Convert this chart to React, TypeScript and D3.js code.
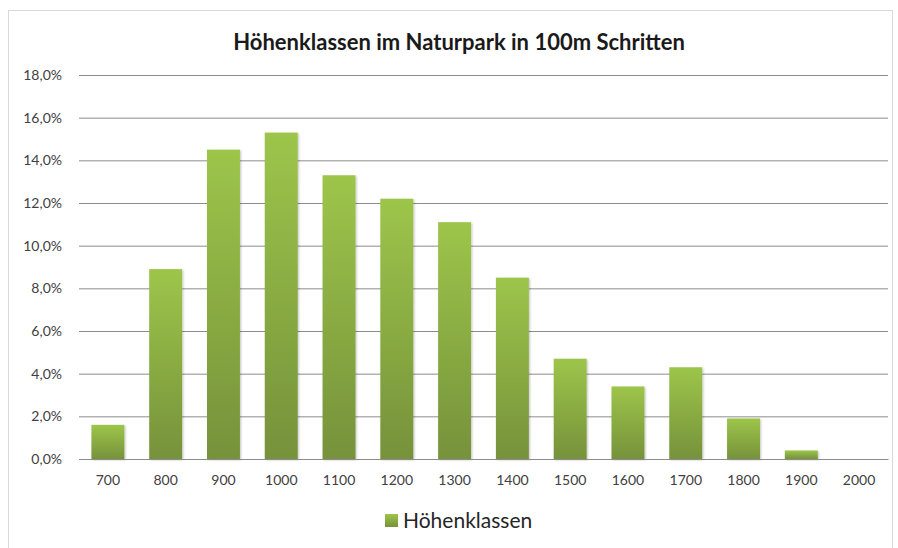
import { useRef, useEffect } from "react";
import * as d3 from "d3";

// ─── Data ─────────────────────────────────────────────────────────────────────

const categories = ["700", "800", "900", "1000", "1100", "1200", "1300", "1400", "1500", "1600", "1700", "1800", "1900", "2000"];
const shares = [1.6, 8.9, 14.5, 15.3, 13.3, 12.2, 11.1, 8.5, 4.7, 3.4, 4.3, 1.9, 0.4, 0];
const yTicks = [0, 2, 4, 6, 8, 10, 12, 14, 16, 18];
const title = "Höhenklassen im Naturpark in 100m Schritten";
const seriesName = "Höhenklassen";

const W = 898;
const H = 548;
const PLOT = { left: 79, right: 888, top: 75, bottom: 459 };
const FONT = "Lato, 'Open Sans', sans-serif";

export default function App() {
  const svgRef = useRef<SVGSVGElement>(null);

  useEffect(() => {
    if (!svgRef.current) return;
    const svg = d3.select(svgRef.current);
    svg.selectAll("*").remove();

    const x = d3.scaleBand().domain(categories).range([PLOT.left, PLOT.right]).paddingInner(0.43).paddingOuter(0.215);
    const y = d3.scaleLinear().domain([0, 18]).range([PLOT.bottom, PLOT.top]);

    // ── Defs ────────────────────────────────────────────────────────────────
    const defs = svg.append("defs");
    const grad = defs.append("linearGradient").attr("id", "barGrad").attr("x1", 0).attr("y1", 0).attr("x2", 0).attr("y2", 1);
    grad.append("stop").attr("offset", "0%").attr("stop-color", "#9dc54a");
    grad.append("stop").attr("offset", "100%").attr("stop-color", "#76923b");
    const filt = defs.append("filter").attr("id", "shadow").attr("x", "-20%").attr("y", "-20%").attr("width", "140%").attr("height", "140%");
    filt.append("feDropShadow").attr("dx", 1).attr("dy", 1).attr("stdDeviation", 1).attr("flood-color", "#000").attr("flood-opacity", 0.25);

    // ── Frame ───────────────────────────────────────────────────────────────
    svg.append("rect").attr("x", 8.5).attr("y", 10.5).attr("width", W - 14).attr("height", H - 8)
      .attr("fill", "#fff").attr("stroke", "#d9d9d9");

    // ── Title ───────────────────────────────────────────────────────────────
    svg.append("text").attr("x", 459).attr("y", 50).attr("text-anchor", "middle")
      .attr("font-family", FONT).attr("font-size", 22).attr("font-weight", "bold").attr("fill", "#1a1a1a")
      .text(title);

    // ── Gridlines + y labels ────────────────────────────────────────────────
    const gy = svg.append("g").attr("transform", `translate(${PLOT.left},0)`)
      .call(d3.axisLeft(y).tickValues(yTicks).tickSize(-(PLOT.right - PLOT.left)).tickPadding(17)
        .tickFormat((d) => `${(d as number).toFixed(1).replace(".", ",")}%`));
    gy.select(".domain").remove();
    gy.selectAll("line").attr("stroke", "#8c8c8c").attr("stroke-width", 1);
    gy.selectAll("text").attr("font-family", FONT).attr("font-size", 14).attr("fill", "#404040");

    // ── Bars ────────────────────────────────────────────────────────────────
    svg.append("g").selectAll("rect").data(shares).enter().append("rect")
      .attr("x", (_, i) => x(categories[i]) ?? 0)
      .attr("y", (d) => y(d))
      .attr("width", x.bandwidth())
      .attr("height", (d) => y(0) - y(d))
      .attr("fill", "url(#barGrad)")
      .attr("filter", "url(#shadow)");

    // ── X axis ──────────────────────────────────────────────────────────────
    const gx = svg.append("g").attr("transform", `translate(0,${PLOT.bottom})`)
      .call(d3.axisBottom(x).tickSize(0).tickPadding(16));
    gx.select(".domain").attr("stroke", "#8c8c8c");
    gx.selectAll("text").attr("font-family", FONT).attr("font-size", 14).attr("fill", "#404040");

    // ── Legend ──────────────────────────────────────────────────────────────
    const lg = svg.append("g").attr("transform", "translate(385,514)");
    lg.append("rect").attr("width", 13).attr("height", 13).attr("fill", "url(#barGrad)");
    lg.append("text").attr("x", 18).attr("y", 14).attr("font-family", FONT).attr("font-size", 21).attr("fill", "#262626")
      .text(seriesName);
  }, []);

  return (
    <svg ref={svgRef} width={W} height={H}
      style={{ position: "absolute", left: 0, top: 0, display: "block" }} />
  );
}
